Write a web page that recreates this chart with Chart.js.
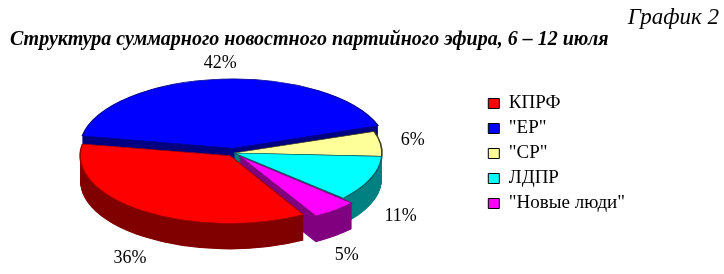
<!DOCTYPE html>
<html><head><meta charset="utf-8">
<script src="https://cdn.jsdelivr.net/npm/chart.js@4"></script>
<style>html,body{margin:0;padding:0;background:#fff;} #wrap{width:724px;height:274px;position:relative;}</style>
</head><body><div id="wrap"><canvas id="c"></canvas></div>
<script>
// ---- data ----
const categories = ['КПРФ', '"ЕР"', '"СР"', 'ЛДПР', '"Новые люди"'];
const shares = [36, 42, 6, 11, 5];
const chartTitle = 'Структура суммарного новостного партийного эфира, 6 – 12 июля';
const chartNumber = 'График 2';

// ---- styles ----
const SERIF = '"Liberation Serif", "Times New Roman", serif';
const topColors = ['#FF0000', '#0000FF', '#FFFF99', '#00FFFF', '#FF00FF'];
const edgeColors = ['#A00000', '#000090', '#404020', '#006060', '#800080'];
const sideColors = ['#800000', '#000080', '#999966', '#008080', '#800080'];
const explode = [14, 20, 0, 0, 16];
const GEO = {cx: 234, cy: 153, rx: 148, ry: 67, depth: 26};

Chart.defaults.font.family = SERIF;
Chart.defaults.color = '#000';

function applyTransform(ctx, el) {
  const R = el.outerRadius;
  ctx.translate(GEO.cx, GEO.cy);
  ctx.scale(GEO.rx / R, GEO.ry / R);
  ctx.translate(-el.x, -el.y);
}

const pie3d = {
  id: 'pie3d',
  beforeDatasetsDraw(chart) {
    const arcs = chart.getDatasetMeta(0).data;
    const ctx = chart.ctx;
    ctx.save();
    if (!arcs.length) return;
    const R = arcs[0].outerRadius;
    applyTransform(ctx, arcs[0]);
    const step = R / GEO.ry;
    for (let d = GEO.depth; d >= 0.5; d -= 0.5) {
      arcs.forEach((el, i) => {
        const fake = Object.create(el);
        fake.options = Object.assign({}, el.options, {
          backgroundColor: sideColors[i], borderColor: sideColors[i], borderWidth: 0
        });
        ctx.save();
        ctx.translate(0, d * step);
        el.draw.call(fake, ctx);
        ctx.restore();
      });
    }
  },
  afterDatasetsDraw(chart) {
    const ctx = chart.ctx;
    ctx.restore();
    const arcs = chart.getDatasetMeta(0).data;
    ctx.save();
    ctx.font = '18px ' + SERIF;
    ctx.fillStyle = '#000';
    ctx.textAlign = 'center';
    ctx.textBaseline = 'middle';
    arcs.forEach((el, i) => {
      const mid = (el.startAngle + el.endAngle) / 2;
      const c = Math.cos(mid), s = Math.sin(mid);
      const x = GEO.cx + c * GEO.rx * 1.22;
      const y = GEO.cy + s * GEO.ry * (s > 0 ? 1.45 : 1.35) + (s > 0 ? GEO.depth : 0);
      ctx.fillText(shares[i] + '%', x, y);
    });
    ctx.restore();
  },
  afterDraw(chart) {
    const ctx = chart.ctx;
    ctx.save();
    ctx.font = 'italic 23px ' + SERIF;
    ctx.fillStyle = '#000';
    ctx.textAlign = 'right';
    ctx.textBaseline = 'alphabetic';
    ctx.fillText(chartNumber, 719, 24);
    ctx.restore();
  }
};

new Chart(document.getElementById('c'), {
  type: 'pie',
  data: {
    labels: categories,
    datasets: [{
      data: shares,
      backgroundColor: topColors,
      borderColor: edgeColors,
      borderWidth: 0.8,
      offset: explode,
      hoverOffset: 0,
      clip: false
    }]
  },
  options: {
    responsive: true,
    maintainAspectRatio: false,
    animation: false,
    events: [],
    rotation: 150.4,
    layout: {padding: {left: 10, right: 89, top: 0, bottom: 55}},
    plugins: {
      tooltip: {enabled: false},
      title: {
        display: true,
        text: chartTitle,
        align: 'start',
        padding: {top: 28, bottom: 2},
        font: {family: SERIF, size: 20, style: 'italic', weight: 'bold'}
      },
      legend: {
        position: 'right',
        align: 'end',
        labels: {
          boxWidth: 11,
          boxHeight: 10,
          padding: 6,
          color: '#000',
          font: {family: SERIF, size: 19},
          generateLabels(chart) {
            const items = Chart.overrides.pie.plugins.legend.labels.generateLabels(chart);
            return items.map(it => Object.assign(it, {strokeStyle: '#000', lineWidth: 1, fontColor: '#000'}));
          }
        }
      }
    }
  },
  plugins: [pie3d]
});
</script>
</body></html>
